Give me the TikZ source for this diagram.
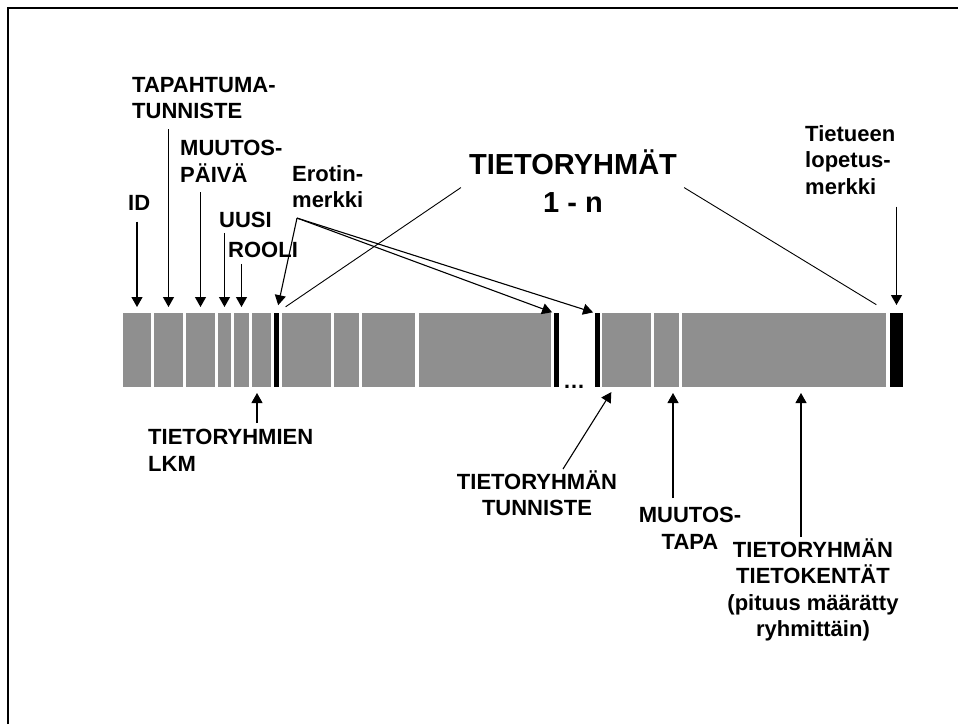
\documentclass[tikz,border=0pt]{standalone}
\usepackage{fontspec}
\setmainfont{Liberation Sans}
\usetikzlibrary{arrows.meta}
\definecolor{fieldgray}{RGB}{143,143,143}

\begin{document}
\begin{tikzpicture}[x=1pt, y=-1pt,
    lbl/.style={inner sep=0pt, font=\fontsize{22}{26.5}\selectfont\bfseries},
    fld/.style={fill=fieldgray, inner sep=0pt, outer sep=0pt, minimum height=74pt},
    sep/.style={fill=black, inner sep=0pt, outer sep=0pt, minimum height=74pt},
    arr/.style={line width=1.1pt, -{Triangle[length=10pt,width=11pt]}},
    pointer/.style={line width=0.9pt}]
    \useasboundingbox (0,0) rectangle (958,724);
    \draw[line width=2pt] (8,724) -- (8,8) -- (958,8);

    % fields of the record
    \foreach \n/\a/\b in {s1/123/151, s2/154/183, s3/186/215, s4/218/231, s5/234/249,
        s6/252/271, s7/282/331, s8/334/359, s9/362/415, s10/419/551,
        s11/602/651, s12/654/679, s13/682/886}
        \node[fld, minimum width={(\b-\a)*1pt}] (\n) at ({(\a+\b)/2}, 350) {};
    \node[sep, minimum width=5pt] (e1) at (276.5, 350) {};
    \node[sep, minimum width=5pt] (e2) at (556.5, 350) {};
    \node[sep, minimum width=5pt] (e3) at (597.5, 350) {};
    \node[sep, minimum width=13pt] (stop) at (896.5, 350) {};
    \node[lbl, anchor=base] (dots) at (574, 388) {…};

    % labels above
    \node[lbl, anchor=north west] (id) at (128, 195) {ID};
    \node[lbl, anchor=north west, align=left] (tap) at (132, 77) {TAPAHTUMA-\\TUNNISTE};
    \node[lbl, anchor=north west, align=left] (paiva) at (180, 140) {MUUTOS-\\PÄIVÄ};
    \node[lbl, anchor=north west] (uusi) at (219, 212) {UUSI};
    \node[lbl, anchor=north west] (rooli) at (228, 242) {ROOLI};
    \node[lbl, anchor=north west, align=left] (erot) at (292, 165) {Erotin-\\merkki};
    \node[lbl, anchor=north west, align=left] (lop) at (805, 125) {Tietueen\\lopetus-\\merkki};
    \node[inner sep=0pt, anchor=north, align=center, font=\fontsize{29}{38}\selectfont\bfseries]
        (tgroup) at (573, 150) {TIETORYHMÄT\\1 - n};

    % labels below
    \node[lbl, anchor=north west, align=left] (lkm) at (148, 429) {TIETORYHMIEN\\LKM};
    \node[lbl, anchor=north, align=center] (tunn) at (537, 470) {TIETORYHMÄN\\TUNNISTE};
    \node[lbl, anchor=north, align=center] (tapa) at (690, 507) {MUUTOS-\\TAPA};
    \node[lbl, anchor=north, align=center] (kent) at (813, 538)
        {TIETORYHMÄN\\TIETOKENTÄT\\(pituus määrätty\\ryhmittäin)};

    % arrows from above
    \draw[arr, shorten >=6pt] ([yshift=-11pt]id.south -| s1.north) -- (s1.north);
    \draw[arr, shorten >=6pt] ([yshift=-10pt]tap.south -| s2.north) -- (s2.north);
    \draw[arr, shorten >=6pt] ([yshift=-10pt]paiva.south -| s3.north) -- (s3.north);
    \draw[arr, shorten >=6pt] ([yshift=-5pt]uusi.south -| s4.north) -- (s4.north);
    \draw[arr, shorten >=6pt] ([yshift=-6pt]rooli.south -| s5.north) -- (s5.north);
    \draw[arr, shorten >=8pt] ([yshift=-12pt]lop.south -| stop.north) -- (stop.north);

    \coordinate (erotfoot) at ([xshift=5pt, yshift=-10pt]erot.south west);
    \draw[arr, shorten >=8pt] (erotfoot) -- (e1.north);
    \draw[arr, shorten >=2pt] (erotfoot) -- (e2.north west);
    \draw[arr, shorten >=2pt] (erotfoot) -- (e3.north west);

    \draw[pointer, shorten >=11pt] ([xshift=-8pt, yshift=-6pt]tgroup.west) -- (e1.north);
    \draw[pointer, shorten >=16pt] ([xshift=7pt, yshift=-6pt]tgroup.east) -- (stop.north west);

    % arrows from below
    \coordinate (lkmfoot) at ([xshift=-4.5pt]s6.south);
    \coordinate (tunnfoot) at ([xshift=-12pt]s11.south);
    \coordinate (tapafoot) at ([xshift=6.5pt]s12.south);
    \coordinate (kentfoot) at ([xshift=17pt]s13.south);
    \draw[arr, shorten >=6pt] ([yshift=6pt]lkm.north -| lkmfoot) -- (lkmfoot);
    \draw[arr, shorten >=6pt] ([xshift=26pt, yshift=1pt]tunn.north) -- (tunnfoot);
    \draw[arr, shorten >=6pt] ([yshift=9pt]tapa.north -| tapafoot) -- (tapafoot);
    \draw[arr, shorten >=6pt] ([yshift=1pt]kent.north -| kentfoot) -- (kentfoot);
\end{tikzpicture}
\end{document}
